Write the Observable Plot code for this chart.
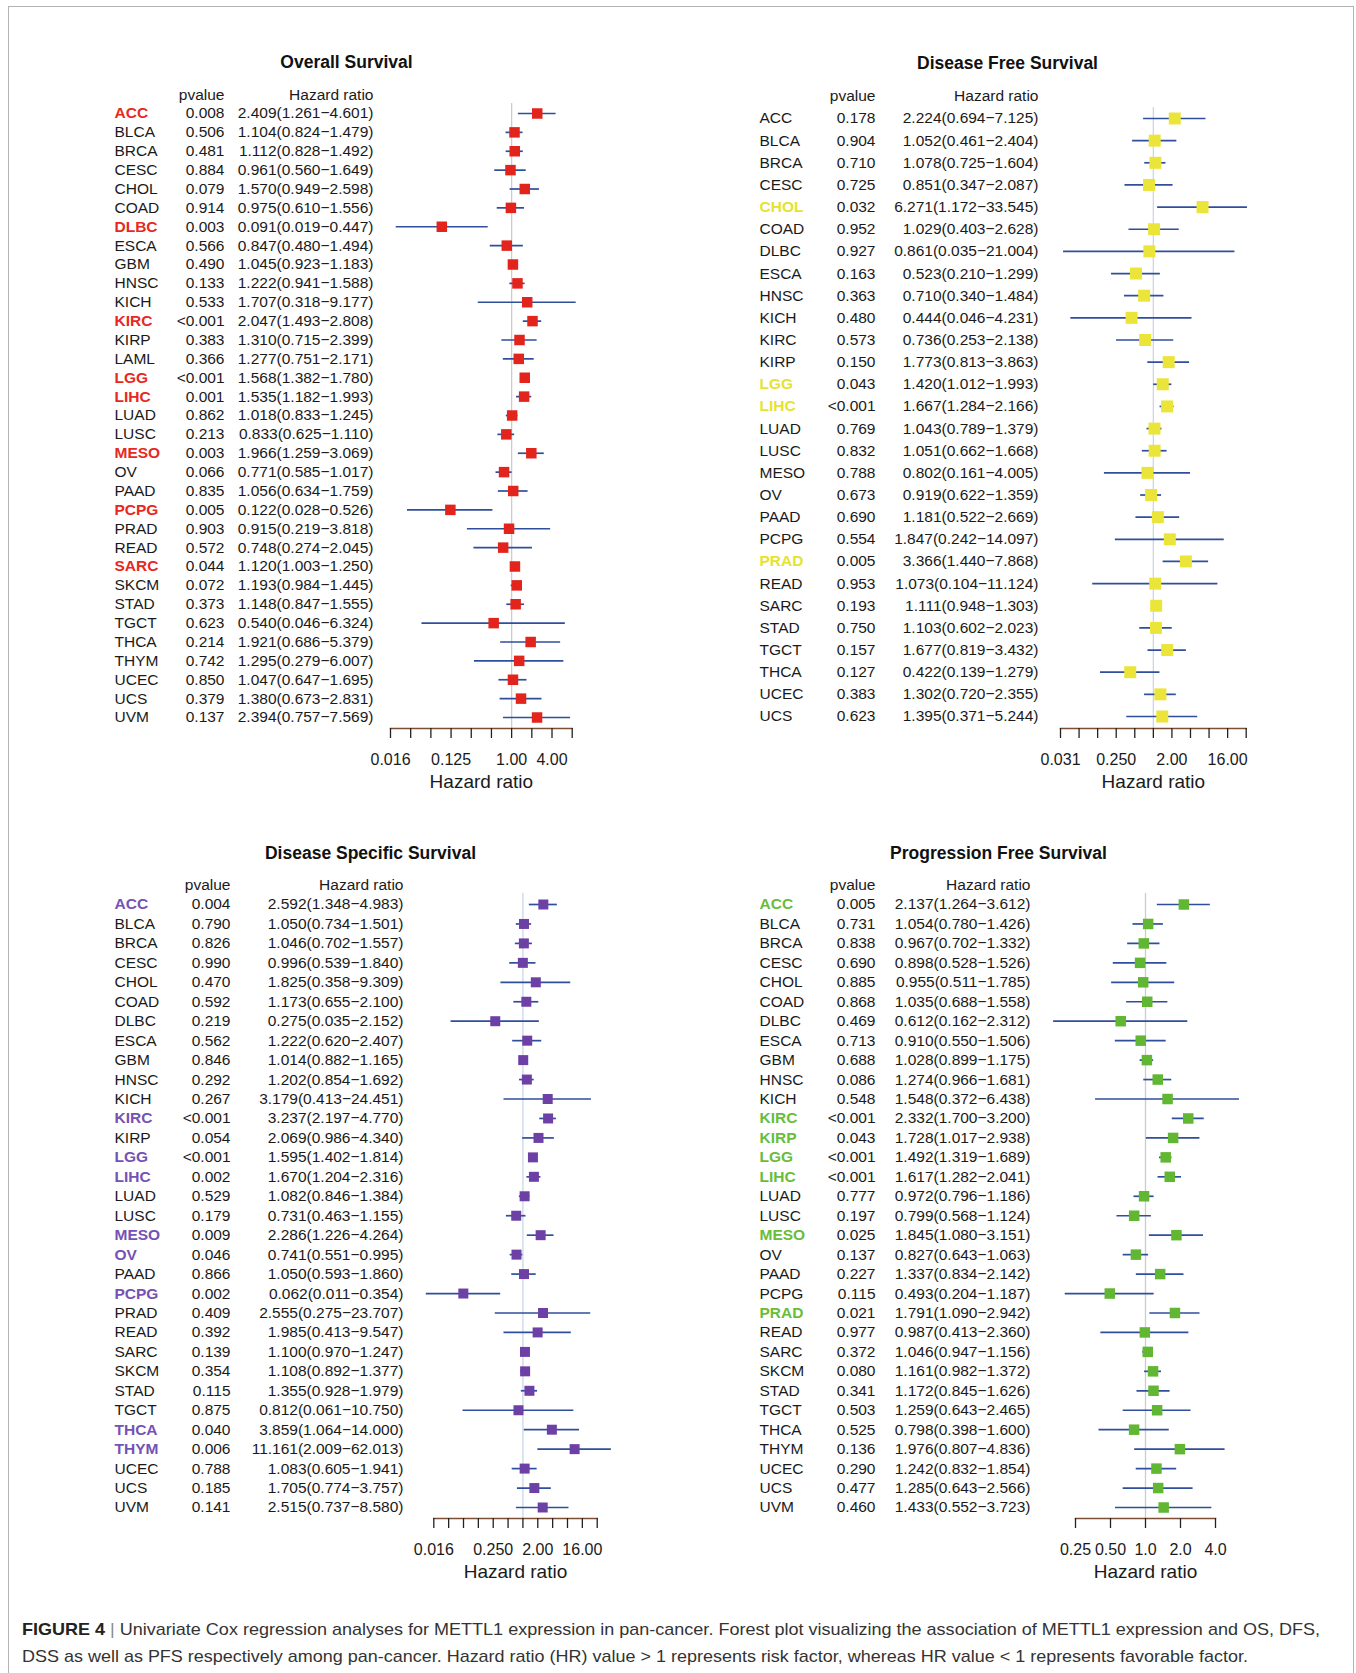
<!DOCTYPE html>
<html>
<head>
<meta charset="utf-8">
<script src="https://cdn.jsdelivr.net/npm/d3@7"></script>
<script src="https://cdn.jsdelivr.net/npm/@observablehq/plot@0.6"></script>
<style>
  html, body { margin: 0; padding: 0; background: #fff; }
  #page { position: relative; width: 1356px; height: 1673px; overflow: hidden;
          font-family: "Liberation Sans", Arial, Helvetica, sans-serif; }
  .border { position: absolute; left: 8px; top: 6px; width: 1346px; height: 1720px;
            border: 1.5px solid #b3b3b3; border-bottom: none; box-sizing: border-box; }
  .panel { position: absolute; }
  .cap { position: absolute; left: 22px; white-space: nowrap; line-height: 20px;
         font-family: "Liberation Sans Narrow", "Arial Narrow", "Liberation Sans", Arial, sans-serif;
         font-size: 17px; color: #333; transform-origin: 0 50%; }
  .cap b { color: #222; }
  .cap .sep { color: #8a8a8a; }
</style>
</head>
<body>
<div id="page"><div class="border"></div></div>
<script>
// ---------- Overall Survival ----------
const osCancer = ["ACC","BLCA","BRCA","CESC","CHOL","COAD","DLBC","ESCA","GBM","HNSC","KICH","KIRC","KIRP","LAML","LGG","LIHC","LUAD","LUSC","MESO","OV","PAAD","PCPG","PRAD","READ","SARC","SKCM","STAD","TGCT","THCA","THYM","UCEC","UCS","UVM"];
const osPvalue = ["0.008","0.506","0.481","0.884","0.079","0.914","0.003","0.566","0.490","0.133","0.533","<0.001","0.383","0.366","<0.001","0.001","0.862","0.213","0.003","0.066","0.835","0.005","0.903","0.572","0.044","0.072","0.373","0.623","0.214","0.742","0.850","0.379","0.137"];
const osHR   = [2.409,1.104,1.112,0.961,1.570,0.975,0.091,0.847,1.045,1.222,1.707,2.047,1.310,1.277,1.568,1.535,1.018,0.833,1.966,0.771,1.056,0.122,0.915,0.748,1.120,1.193,1.148,0.540,1.921,1.295,1.047,1.380,2.394];
const osLow  = [1.261,0.824,0.828,0.560,0.949,0.610,0.019,0.480,0.923,0.941,0.318,1.493,0.715,0.751,1.382,1.182,0.833,0.625,1.259,0.585,0.634,0.028,0.219,0.274,1.003,0.984,0.847,0.046,0.686,0.279,0.647,0.673,0.757];
const osHigh = [4.601,1.479,1.492,1.649,2.598,1.556,0.447,1.494,1.183,1.588,9.177,2.808,2.399,2.171,1.780,1.993,1.245,1.110,3.069,1.017,1.759,0.526,3.818,2.045,1.250,1.445,1.555,6.324,5.379,6.007,1.695,2.831,7.569];
const osTickValues = [1/64, 1/8, 1, 4];
const osTickLabels = ["0.016","0.125","1.00","4.00"];

// ---------- Disease Free Survival ----------
const dfsCancer = ["ACC","BLCA","BRCA","CESC","CHOL","COAD","DLBC","ESCA","HNSC","KICH","KIRC","KIRP","LGG","LIHC","LUAD","LUSC","MESO","OV","PAAD","PCPG","PRAD","READ","SARC","STAD","TGCT","THCA","UCEC","UCS"];
const dfsPvalue = ["0.178","0.904","0.710","0.725","0.032","0.952","0.927","0.163","0.363","0.480","0.573","0.150","0.043","<0.001","0.769","0.832","0.788","0.673","0.690","0.554","0.005","0.953","0.193","0.750","0.157","0.127","0.383","0.623"];
const dfsHR   = [2.224,1.052,1.078,0.851,6.271,1.029,0.861,0.523,0.710,0.444,0.736,1.773,1.420,1.667,1.043,1.051,0.802,0.919,1.181,1.847,3.366,1.073,1.111,1.103,1.677,0.422,1.302,1.395];
const dfsLow  = [0.694,0.461,0.725,0.347,1.172,0.403,0.035,0.210,0.340,0.046,0.253,0.813,1.012,1.284,0.789,0.662,0.161,0.622,0.522,0.242,1.440,0.104,0.948,0.602,0.819,0.139,0.720,0.371];
const dfsHigh = [7.125,2.404,1.604,2.087,33.545,2.628,21.004,1.299,1.484,4.231,2.138,3.863,1.993,2.166,1.379,1.668,4.005,1.359,2.669,14.097,7.868,11.124,1.303,2.023,3.432,1.279,2.355,5.244];
const dfsTickValues = [1/32, 1/4, 2, 16];
const dfsTickLabels = ["0.031","0.250","2.00","16.00"];

// ---------- Disease Specific Survival ----------
const dssCancer = ["ACC","BLCA","BRCA","CESC","CHOL","COAD","DLBC","ESCA","GBM","HNSC","KICH","KIRC","KIRP","LGG","LIHC","LUAD","LUSC","MESO","OV","PAAD","PCPG","PRAD","READ","SARC","SKCM","STAD","TGCT","THCA","THYM","UCEC","UCS","UVM"];
const dssPvalue = ["0.004","0.790","0.826","0.990","0.470","0.592","0.219","0.562","0.846","0.292","0.267","<0.001","0.054","<0.001","0.002","0.529","0.179","0.009","0.046","0.866","0.002","0.409","0.392","0.139","0.354","0.115","0.875","0.040","0.006","0.788","0.185","0.141"];
const dssHR   = [2.592,1.050,1.046,0.996,1.825,1.173,0.275,1.222,1.014,1.202,3.179,3.237,2.069,1.595,1.670,1.082,0.731,2.286,0.741,1.050,0.062,2.555,1.985,1.100,1.108,1.355,0.812,3.859,11.161,1.083,1.705,2.515];
const dssLow  = [1.348,0.734,0.702,0.539,0.358,0.655,0.035,0.620,0.882,0.854,0.413,2.197,0.986,1.402,1.204,0.846,0.463,1.226,0.551,0.593,0.011,0.275,0.413,0.970,0.892,0.928,0.061,1.064,2.009,0.605,0.774,0.737];
const dssHigh = [4.983,1.501,1.557,1.840,9.309,2.100,2.152,2.407,1.165,1.692,24.451,4.770,4.340,1.814,2.316,1.384,1.155,4.264,0.995,1.860,0.354,23.707,9.547,1.247,1.377,1.979,10.750,14.000,62.013,1.941,3.757,8.580];
const dssTickValues = [1/64, 1/4, 2, 16];
const dssTickLabels = ["0.016","0.250","2.00","16.00"];

// ---------- Progression Free Survival ----------
const pfsCancer = ["ACC","BLCA","BRCA","CESC","CHOL","COAD","DLBC","ESCA","GBM","HNSC","KICH","KIRC","KIRP","LGG","LIHC","LUAD","LUSC","MESO","OV","PAAD","PCPG","PRAD","READ","SARC","SKCM","STAD","TGCT","THCA","THYM","UCEC","UCS","UVM"];
const pfsPvalue = ["0.005","0.731","0.838","0.690","0.885","0.868","0.469","0.713","0.688","0.086","0.548","<0.001","0.043","<0.001","<0.001","0.777","0.197","0.025","0.137","0.227","0.115","0.021","0.977","0.372","0.080","0.341","0.503","0.525","0.136","0.290","0.477","0.460"];
const pfsHR   = [2.137,1.054,0.967,0.898,0.955,1.035,0.612,0.910,1.028,1.274,1.548,2.332,1.728,1.492,1.617,0.972,0.799,1.845,0.827,1.337,0.493,1.791,0.987,1.046,1.161,1.172,1.259,0.798,1.976,1.242,1.285,1.433];
const pfsLow  = [1.264,0.780,0.702,0.528,0.511,0.688,0.162,0.550,0.899,0.966,0.372,1.700,1.017,1.319,1.282,0.796,0.568,1.080,0.643,0.834,0.204,1.090,0.413,0.947,0.982,0.845,0.643,0.398,0.807,0.832,0.643,0.552];
const pfsHigh = [3.612,1.426,1.332,1.526,1.785,1.558,2.312,1.506,1.175,1.681,6.438,3.200,2.938,1.689,2.041,1.186,1.124,3.151,1.063,2.142,1.187,2.942,2.360,1.156,1.372,1.626,2.465,1.600,4.836,1.854,2.566,3.723];
const pfsTickValues = [0.25, 0.5, 1, 2, 4];
const pfsTickLabels = ["0.25","0.50","1.0","2.0","4.0"];

const FONT = '"Liberation Sans", Arial, Helvetica, sans-serif';
const INK = "#1a1a1a";

// Page placement of each forest panel (page pixel coordinates).
const panels = [
  { title: "Overall Survival", cancer: osCancer, pvalue: osPvalue, hr: osHR, low: osLow, high: osHigh,
    tickValues: osTickValues, tickLabels: osTickLabels,
    box: "#e2241d", name: "#e8281e", ref: "#cccccc", boxSize: 10.5,
    L: { svgLeft: 100, svgTop: 30, svgW: 560, svgH: 780, titleX: 346, titleY: 62, headerY: 95,
         nameX: 114, pvalRight: 224, hrRight: 373, rowY0: 113, rowY1: 717, refTop: 103,
         axisX0: 390, axisX1: 571.7, axisY: 728, expLo: -6, expHi: 3 } },
  { title: "Disease Free Survival", cancer: dfsCancer, pvalue: dfsPvalue, hr: dfsHR, low: dfsLow, high: dfsHigh,
    tickValues: dfsTickValues, tickLabels: dfsTickLabels,
    box: "#ebe53a", name: "#e6e22e", ref: "#c9d7e6", boxSize: 12,
    L: { svgLeft: 740, svgTop: 30, svgW: 560, svgH: 780, titleX: 1007, titleY: 63, headerY: 96,
         nameX: 759, pvalRight: 875, hrRight: 1038, rowY0: 118, rowY1: 716, refTop: 107,
         axisX0: 1060, axisX1: 1245.7, axisY: 728, expLo: -5, expHi: 5 } },
  { title: "Disease Specific Survival", cancer: dssCancer, pvalue: dssPvalue, hr: dssHR, low: dssLow, high: dssHigh,
    tickValues: dssTickValues, tickLabels: dssTickLabels,
    box: "#6d40a6", name: "#7552b5", ref: "#c9d7e6", boxSize: 10,
    L: { svgLeft: 100, svgTop: 820, svgW: 560, svgH: 780, titleX: 370, titleY: 853, headerY: 885,
         nameX: 114, pvalRight: 230, hrRight: 403, rowY0: 904, rowY1: 1507, refTop: 893,
         axisX0: 433.3, axisX1: 596.7, axisY: 1518, expLo: -6, expHi: 5 } },
  { title: "Progression Free Survival", cancer: pfsCancer, pvalue: pfsPvalue, hr: pfsHR, low: pfsLow, high: pfsHigh,
    tickValues: pfsTickValues, tickLabels: pfsTickLabels,
    box: "#61b632", name: "#69bd38", ref: "#cccccc", boxSize: 10.5,
    L: { svgLeft: 740, svgTop: 820, svgW: 560, svgH: 780, titleX: 998, titleY: 853, headerY: 885,
         nameX: 759, pvalRight: 875, hrRight: 1030, rowY0: 904, rowY1: 1507, refTop: 893,
         axisX0: 1075, axisX1: 1215, axisY: 1518, expLo: -2, expHi: 2 } }
];

function forestPanel(p) {
  const L = p.L;
  const rows = p.cancer.map((c, i) => ({
    cancer: c, pvalue: p.pvalue[i], hr: p.hr[i], low: p.low[i], high: p.high[i],
    sig: p.pvalue[i].startsWith("<") || +p.pvalue[i] < 0.05,
    label: `${p.hr[i].toFixed(3)}(${p.low[i].toFixed(3)}\u2212${p.high[i].toFixed(3)})`
  }));
  const mL = L.axisX0 - L.svgLeft;
  const mR = L.svgLeft + L.svgW - L.axisX1;
  const mT = L.refTop - L.svgTop;
  const mB = L.svgTop + L.svgH - L.axisY;
  const ticks = d3.range(L.expLo, L.expHi + 1).map(e => 2 ** e);
  const tickText = new Map(p.tickValues.map((v, i) => [v, p.tickLabels[i]]));
  const headDy = L.headerY - L.refTop;
  const rowText = {y: "cancer", frameAnchor: "left", fontSize: 15.5, fontFamily: FONT};
  const fixed = {text: d => d, frameAnchor: "top-left", lineAnchor: "middle"};

  const chart = Plot.plot({
    width: L.svgW, height: L.svgH,
    marginLeft: mL, marginRight: mR, marginTop: mT, marginBottom: mB,
    style: {fontFamily: FONT, fontSize: "16.5px", color: INK, background: "transparent", overflow: "visible"},
    x: {type: "log", base: 2, domain: [2 ** L.expLo, 2 ** L.expHi], axis: null},
    y: {type: "point", domain: p.cancer, range: [L.rowY0 - L.svgTop, L.rowY1 - L.svgTop], padding: 0, round: false, axis: null},
    marks: [
      // reference line at HR = 1
      Plot.ruleX([1], {stroke: p.ref, strokeWidth: 1.3}),
      // confidence intervals and point estimates
      Plot.ruleY(rows, {y: "cancer", x1: "low", x2: "high", stroke: "#2f4f9c", strokeWidth: 1.7}),
      Plot.dot(rows, {x: "hr", y: "cancer", symbol: "square", r: p.boxSize / Math.sqrt(Math.PI), fill: p.box, stroke: "none"}),
      // table columns
      Plot.text(rows.filter(d => !d.sig), {...rowText, text: "cancer", dx: L.nameX - L.axisX0, textAnchor: "start", fill: INK}),
      Plot.text(rows.filter(d => d.sig), {...rowText, text: "cancer", dx: L.nameX - L.axisX0, textAnchor: "start", fill: p.name, fontWeight: "bold"}),
      Plot.text(rows, {...rowText, text: "pvalue", dx: L.pvalRight - L.axisX0, textAnchor: "end", fill: INK}),
      Plot.text(rows, {...rowText, text: "label", dx: L.hrRight - L.axisX0, textAnchor: "end", fill: INK}),
      // column headers and title
      Plot.text(["pvalue"], {...fixed, dx: L.pvalRight - L.axisX0, dy: headDy, textAnchor: "end", fontSize: 15.5, fill: INK}),
      Plot.text(["Hazard ratio"], {...fixed, dx: L.hrRight - L.axisX0, dy: headDy, textAnchor: "end", fontSize: 15.5, fill: INK}),
      Plot.text([p.title], {...fixed, dx: L.titleX - L.axisX0, dy: L.titleY - L.refTop, textAnchor: "middle", fontSize: 17.5, fontWeight: "bold", fill: "#111"}),
      // log2 axis
      Plot.frame({anchor: "bottom", stroke: "#7d4f35", strokeWidth: 1.4}),
      Plot.axisX({ticks, tickSize: 10, tickPadding: 15, tickFormat: d => tickText.get(d) ?? "", label: null, stroke: "#222", strokeWidth: 1.3, fontSize: 16, fill: INK}),
      Plot.text(["Hazard ratio"], {text: d => d, frameAnchor: "bottom", lineAnchor: "middle", dy: 53, fontSize: 19, fill: INK})
    ]
  });
  chart.classList.add("panel");
  chart.style.left = L.svgLeft + "px";
  chart.style.top = L.svgTop + "px";
  return chart;
}

const page = document.getElementById("page");
for (const p of panels) page.appendChild(forestPanel(p));

// figure caption, fitted to the text block width
const captionLines = [
  {html: '<b>FIGURE 4</b> <span class="sep">|</span> Univariate Cox regression analyses for METTL1 expression in pan-cancer. Forest plot visualizing the association of METTL1 expression and OS, DFS,', top: 1620, width: 1298},
  {html: 'DSS as well as PFS respectively among pan-cancer. Hazard ratio (HR) value &gt; 1 represents risk factor, whereas HR value &lt; 1 represents favorable factor.', top: 1647, width: 1226}
];
for (const c of captionLines) {
  const el = document.createElement("div");
  el.className = "cap";
  el.innerHTML = c.html;
  el.style.top = c.top + "px";
  page.appendChild(el);
  const w = el.getBoundingClientRect().width;
  if (w > 0) el.style.transform = `scaleX(${c.width / w})`;
}
</script>
</body>
</html>
